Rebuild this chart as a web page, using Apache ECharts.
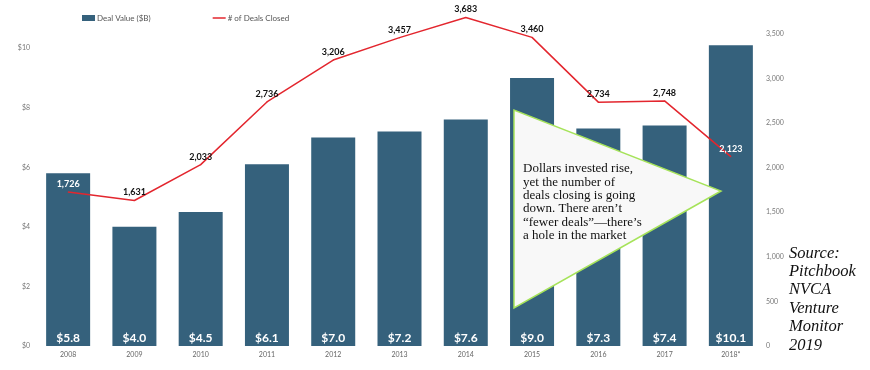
<!DOCTYPE html>
<html>
<head>
<meta charset="utf-8">
<script src="https://cdn.jsdelivr.net/npm/echarts@6/dist/echarts.min.js"></script>
<style>html,body{margin:0;padding:0;background:#fff}#c{width:870px;height:370px}</style>
</head>
<body>
<div id="c"></div>
<script>
var categories = ['2008','2009','2010','2011','2012','2013','2014','2015','2016','2017','2018*'];
var dealValue = [5.8, 4.0, 4.5, 6.1, 7.0, 7.2, 7.6, 9.0, 7.3, 7.4, 10.1];
var dealsClosed = [1726, 1631, 2033, 2736, 3206, 3457, 3683, 3460, 2734, 2748, 2123];
var whiteLabelIdx = [0, 10];
var leftTicks = ['$0','$2','$4','$6','$8','$10'];

var chart = echarts.init(document.getElementById('c'));
var lineData = dealsClosed.map(function(v, i){
  return {value: v, label: {color: whiteLabelIdx.indexOf(i) >= 0 ? '#ffffff' : '#111111'}};
});
chart.setOption({
  animation: false,
  legend: {
    top: 14, left: 82, padding: 0, itemWidth: 13, itemHeight: 6, itemGap: 62,
    textStyle: {fontFamily: 'Lato', fontSize: 8, color: '#555', padding: [0,0,0,-3]},
    data: [{name: 'Deal Value ($B)', icon: 'rect'}, {name: '# of Deals Closed', icon: 'path://M0,0H13V1.5H0Z'}]
  },
  grid: {left: 35, right: 106, top: 10, bottom: 24},
  xAxis: {
    type: 'category', data: categories,
    axisLine: {show: false}, axisTick: {show: false},
    axisLabel: {fontFamily: 'Lato', fontSize: 7, color: '#666', margin: 5}
  },
  yAxis: [
    {type: 'value', min: 0, max: 11.28, interval: 2, splitLine: {show: false},
     axisLabel: {showMaxLabel: false, fontFamily: 'Lato', fontSize: 7, color: '#777', margin: 5,
       formatter: function(v){ var i = Math.round(v/2); return (Math.abs(v - i*2) < 1e-6 && i < leftTicks.length) ? leftTicks[i] : ''; }}},
    {type: 'value', min: 0, max: 3767, interval: 500, splitLine: {show: false},
     axisLabel: {showMaxLabel: false, fontFamily: 'Lato', fontSize: 7, color: '#777', margin: 2,
       formatter: function(v){ return v % 500 === 0 ? v.toLocaleString('en-US') : ''; }}}
  ],
  series: [
    {name: 'Deal Value ($B)', type: 'bar', data: dealValue, barWidth: 44, yAxisIndex: 0,
     itemStyle: {color: '#35617c'},
     label: {show: true, position: 'insideBottom', distance: 2, color: '#fff', fontFamily: 'Lato', fontSize: 12, fontWeight: 'bold',
       formatter: function(p){ return '$' + p.value.toFixed(1); }}},
    {name: '# of Deals Closed', type: 'line', yAxisIndex: 1, data: lineData, symbol: 'circle', symbolSize: 1, showSymbol: true, z: 5,
     lineStyle: {color: '#e3262e', width: 1.5}, itemStyle: {color: '#e3262e'},
     label: {show: true, position: 'top', distance: 3, fontFamily: 'Lato', fontSize: 9, fontWeight: 'bold',
       formatter: function(p){ return p.value.toLocaleString('en-US'); }}}
  ],
  graphic: [
    {type: 'polygon', z: 100, shape: {points: [[514,110],[514,308],[721,191]]},
     style: {fill: '#f8f8f8', stroke: '#a6e35a', lineWidth: 1.5}},
    {type: 'text', z: 101, left: 523, top: 162,
     style: {text: 'Dollars invested rise,\nyet the number of\ndeals closing is going\ndown. There aren\u2019t\n\u201cfewer deals\u201d\u2014there\u2019s\na hole in the market',
       font: '13px "Liberation Serif"', lineHeight: 13.4, fill: '#111'}},
    {type: 'text', z: 101, left: 789, top: 244,
     style: {text: 'Source:\nPitchbook\nNVCA\nVenture\nMonitor\n2019',
       font: 'italic 16.5px "Liberation Serif"', lineHeight: 18.4, fill: '#111'}}
  ]
});
</script>
</body>
</html>
